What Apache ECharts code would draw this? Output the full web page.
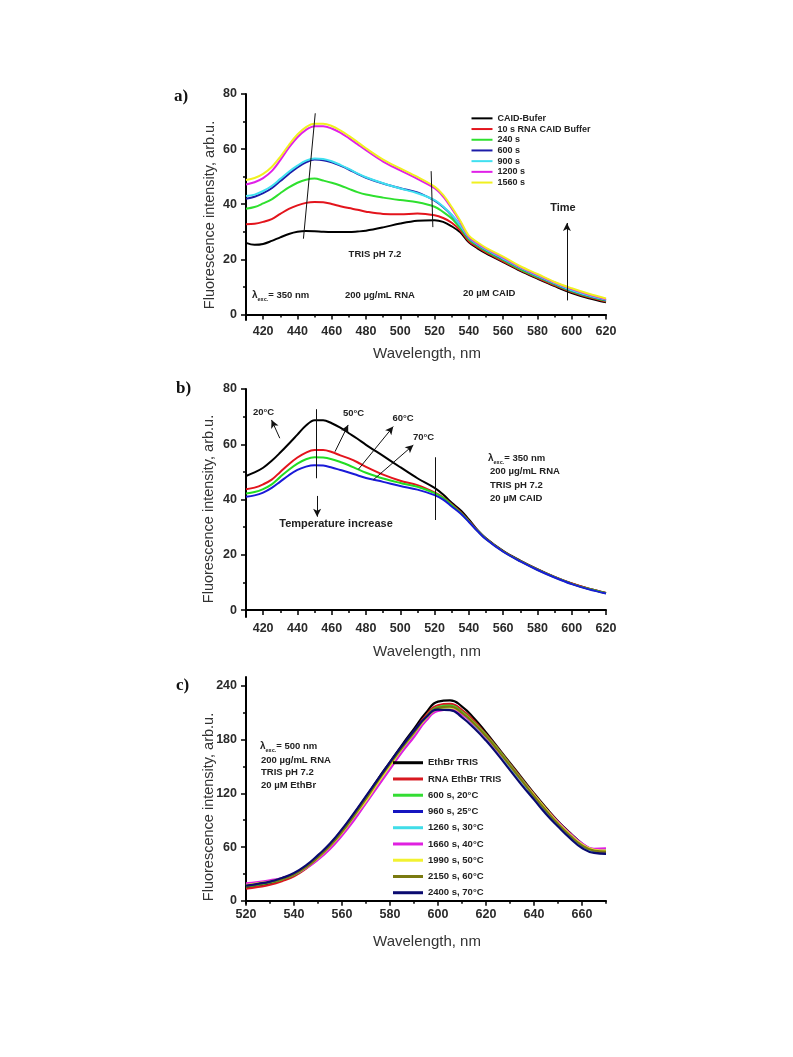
<!DOCTYPE html>
<html><head><meta charset="utf-8">
<script src="https://cdn.jsdelivr.net/npm/echarts@6/dist/echarts.min.js"></script>
<style>html,body{margin:0;padding:0;background:#fff}#c{width:793px;height:1057px}</style>
</head><body><div id="c"></div><script>
// ---------- DATA ----------
const wavelengthA = [410,415,420,425,430,435,440,445,450,455,460,465,470,475,480,490,500,510,520,525,530,535,540,545,550,560,570,580,590,600,610,620];
const namesA = ['CAID-Bufer','10 s RNA CAID Buffer','240 s','600 s','900 s','1200 s','1560 s'];
const a_caid   = [26,25.3,25.6,26.7,28,29.2,30,30.3,30.2,30,29.9,29.9,29.9,30.1,30.4,31.6,33,34,34.2,33.6,32,29.8,26.2,24,22.2,19,15.8,13,10.3,7.8,5.9,4.4];
const a_10s    = [32.7,32.9,33.6,34.6,36.5,38.3,39.6,40.5,40.8,40.7,40.1,39.3,38.6,38,37.3,36.5,36.4,36.6,36,35,33.3,30.5,26.6,24.4,22.5,19.3,16.1,13.3,10.6,8.1,6.2,4.7];
const a_240s   = [38.4,39,40.3,41.8,44,46.1,47.8,48.9,49.3,48.6,47.8,46.8,45.6,44.4,43.5,42.4,41.5,40.7,39.1,37.2,34.8,31.3,27.2,24.9,23,19.7,16.4,13.6,10.9,8.4,6.5,5];
const a_600s   = [42,42.7,44,45.8,48.4,51,53.4,55.2,56.2,56,55.2,54,52.6,51,49.6,47.5,45.8,44.3,41.3,39,36,32.2,27.7,25.3,23.4,20.1,16.8,13.9,11.2,8.7,6.8,5.2];
const a_900s   = [43,43.5,44.8,46.6,49.2,51.8,54,55.8,56.6,56.4,55.6,54.3,52.8,51.2,49.8,47.6,45.7,44,41.5,39.2,36.2,32.2,27.8,25.4,23.5,20.2,16.9,14,11.3,8.8,6.9,5.3];
const a_1200s  = [47.2,48,49.5,52,56,60.5,64.3,67,68.3,68.3,67.5,66,64,61.8,59.6,55.5,52.3,49.2,45.8,42.8,38.5,33.6,28.2,25.8,23.9,20.6,17.2,14.4,11.6,9.2,7.2,5.5];
const a_1560s  = [48.8,49.5,51,53.5,57.2,61.5,65.3,68,69.2,69.2,68.4,66.8,64.8,62.6,60.3,56.2,53,49.9,46.4,43.4,39,34,28.6,26.2,24.2,21,17.5,14.7,11.8,9.5,7.5,5.8];

const wavelengthB = [410,415,420,425,430,435,440,445,450,455,460,465,470,475,480,490,500,510,520,525,530,535,540,545,550,560,570,580,590,600,610,620];
const namesB = ['20°C','50°C','60°C','70°C'];
const b_20C = [48.5,49.8,51.5,54,57,60.2,63.5,66.8,68.7,68.7,67.6,66,64,62,59.8,55.8,51.7,47.7,44.2,41.8,38.8,36.2,32.8,29,26,21.4,17.9,14.8,12,9.6,7.7,6.2];
const b_50C = [43.7,44.3,45.5,47.2,50,52.8,55.2,57,57.9,57.9,57.2,56,54.9,53.5,51.8,49,46.8,45.2,42.6,40.8,38.3,35.6,32.3,28.8,25.8,21.3,17.8,14.7,12,9.6,7.7,6.2];
const b_60C = [42.2,42.7,43.8,45.5,48.2,50.8,53,54.6,55.3,55.2,54.6,53.6,52.4,51,49.7,47.6,46,44.6,42.3,40.6,38,35.3,32.1,28.7,25.7,21.2,17.7,14.6,11.9,9.5,7.6,6.1];
const b_70C = [41,41.5,42.5,44.2,46.5,48.8,50.7,51.9,52.4,52.3,51.6,50.7,49.8,48.8,47.8,46.4,44.9,43.6,41.6,40,37.5,35,31.9,28.6,25.6,21.1,17.6,14.5,11.8,9.4,7.5,6];

const wavelengthC = [520,525,530,535,540,545,550,555,560,565,570,575,580,585,590,595,600,605,610,615,620,625,630,635,640,645,650,655,660,665,670];
const namesC = ['EthBr TRIS','RNA EthBr TRIS','600 s, 20°C','960 s, 25°C','1260 s, 30°C','1660 s, 40°C','1990 s, 50°C','2150 s, 60°C','2400 s, 70°C'];
const c_ethbr  = [15,17,19.5,23.5,29,38,50,63,79,97,116,136,155,174,192,210,222.5,224,217,204,188,171,154,137,120,104,89,76,64,56,53];
const c_rna    = [13.5,15.5,18,22,27.5,36,47,60,76,94,113,133,152,171,189,207,218.5,220,213,201,186,170,153,136,119,103,88,75,63,56,55];
const c_600s   = [16,18,20.5,24,29,37,48,61,76,94,113,132,151,170,187,205,216.5,218,211,199,185,169,152,135,118,102,87,74,63,57,56];
const c_960s   = [17,19,21.5,25,30,38,49,62,77,95,114,133,152,170,187,204,214.5,216,209,197,183,167,150,133,116,100,86,73,62,56,55];
const c_1260s  = [18,20,22,25,29.5,37,47,59,74,91,110,129,148,167,184,202,213,214.5,209,197,183,167,150,133,117,101,86,73,62,56,56];
const c_1660s  = [19.5,21,23,25.5,30,36.5,46,58,73,90,109,128,147,166,183,201,212,213.5,208,197,183,167,151,134,118,102,88,75,64,58,58.5];
const c_1990s  = [17.5,19.5,21.5,25,30,37.5,48,61,76,94,112,132,151,170,187,204,214.5,216,210,198,184,168,151,134,118,102,87,74,63,57,56];
const c_2150s  = [16.5,18.5,21,24.5,29.5,37.5,48.5,61.5,77,95,114,134,153,171,188,205,215.5,217,210,198,184,168,151,134,117,101,86,73,62,56,55];
const c_2400s  = [17,19,21.5,25.5,31,39.5,51,64,80,98,117,136,155,173,190,205,213.5,213,205,193,179,163,146,129,113,97,83,70,59,53.5,52.5];

// tick labels
const xLabelsAB = [420,440,460,480,500,520,540,560,580,600,620];
const xMinorAB  = [410,430,450,470,490,510,530,550,570,590,610];
const yLabelsAB = [0,20,40,60,80];
const yMinorAB  = [10,30,50,70];
const xLabelsC = [520,540,560,580,600,620,640,660];
const xMinorC  = [530,550,570,590,610,630,650,670];
const yLabelsC = [0,60,120,180,240];
const yMinorC  = [30,90,150,210];

// ---------- CHART ----------
const FONT = '"Liberation Sans", Arial, sans-serif';
const chart = echarts.init(document.getElementById('c'));

const grids = [
  {left:246, top:94, width:360, height:226},
  {left:246, top:389, width:360, height:228},
  {left:246, top:677, width:360, height:226.5}
];
const ranges = [
  {xmin:410,xmax:620,ymin:-2,ymax:80, xl:xLabelsAB,xm:xMinorAB,yl:yLabelsAB,ym:yMinorAB},
  {xmin:410,xmax:620,ymin:-2.5,ymax:80, xl:xLabelsAB,xm:xMinorAB,yl:yLabelsAB,ym:yMinorAB},
  {xmin:520,xmax:670,ymin:-3,ymax:250, xl:xLabelsC,xm:xMinorC,yl:yLabelsC,ym:yMinorC}
];
const labelStyle = {fontFamily:FONT, fontSize:12.5, fontWeight:'bold', color:'#2a2a2a'};
const xAxis = [], yAxis = [];
ranges.forEach((r,g)=>{
  xAxis.push({type:'value', gridIndex:g, position:'bottom', min:r.xmin, max:r.xmax,
    axisLine:{show:true, lineStyle:{color:'#000', width:2}},
    axisTick:{show:true, customValues:r.xl, length:5, lineStyle:{color:'#000', width:1.5}},
    axisLabel:{customValues:r.xl, margin:5, ...labelStyle},
    splitLine:{show:false}});
  xAxis.push({type:'value', gridIndex:g, position:'bottom', min:r.xmin, max:r.xmax,
    axisLine:{show:false},
    axisTick:{show:true, customValues:r.xm, length:3, lineStyle:{color:'#000', width:1.5}},
    axisLabel:{show:false}, splitLine:{show:false}});
  yAxis.push({type:'value', gridIndex:g, position:'left', min:r.ymin, max:r.ymax,
    axisLine:{show:true, lineStyle:{color:'#000', width:2}},
    axisTick:{show:true, customValues:r.yl, length:5, lineStyle:{color:'#000', width:1.5}},
    axisLabel:{customValues:r.yl, margin:9, ...labelStyle},
    splitLine:{show:false}});
  yAxis.push({type:'value', gridIndex:g, position:'left', min:r.ymin, max:r.ymax,
    axisLine:{show:false},
    axisTick:{show:true, customValues:r.ym, length:3, lineStyle:{color:'#000', width:1.5}},
    axisLabel:{show:false}, splitLine:{show:false}});
});

function ls(name, xs, ys, color, g, width, sm){
  return {type:'line', name, xAxisIndex:g*2, yAxisIndex:g*2,
    data:xs.map((x,i)=>[x,ys[i]]), symbol:'none', showSymbol:false, smooth:sm,
    lineStyle:{color, width}, itemStyle:{color}, silent:true, z:3};
}
const colA = ['#000000','#e3141c','#2ee02e','#1c1ca8','#40e0f0','#e020e8','#f0f020'];
const seriesA = [a_caid,a_10s,a_240s,a_600s,a_900s,a_1200s,a_1560s].map((d,i)=>ls(namesA[i],wavelengthA,d,colA[i],0,2,0.35));
const colB = ['#000000','#e3141c','#22dd22','#1a1ad8'];
const seriesB = [b_20C,b_50C,b_60C,b_70C].map((d,i)=>ls(namesB[i],wavelengthB,d,colB[i],1,2,0.35));
const colC = ['#000000','#d81820','#33dd33','#1515c0','#40dde8','#e020e0','#f2f230','#7a7a10','#0a0a70'];
const seriesC = [c_ethbr,c_rna,c_600s,c_960s,c_1260s,c_1660s,c_1990s,c_2150s,c_2400s].map((d,i)=>ls(namesC[i],wavelengthC,d,colC[i],2,2.2,0.5));

const arrowEnd = {symbol:'arrow', symbolSize:[6,8]};
function seg(p1,p2,arrow){ return [{coord:p1, symbol:'none'}, Object.assign({coord:p2}, arrow?arrowEnd:{symbol:'none'})]; }
const mlBase = {silent:true, animation:false, symbol:['none','none'], label:{show:false}, lineStyle:{color:'#111', width:1, type:'solid'}, emphasis:{disabled:true}};
seriesA[0].markLine = Object.assign({}, mlBase, {data:[
  seg([443.5,27.5],[450.4,73]),
  seg([518,52],[519,31.7]),
  seg([597.2,5.1],[597.2,33.2],true)
]});
seriesB[0].markLine = Object.assign({}, mlBase, {data:[
  seg([450.8,72.7],[450.8,47.7]),
  seg([520.3,55.3],[520.3,32.6]),
  seg([429.7,62.2],[424.9,68.8],true),
  seg([461.9,57.3],[469.6,67],true),
  seg([475.5,50.9],[495.9,66.4],true),
  seg([484.2,47.1],[507.6,59.7],true),
  seg([451.5,41.3],[451.5,33.8],true)
]});

const legTxt = {fontFamily:FONT, fontWeight:'bold', color:'#222'};
const legend = [
  {data:namesA, orient:'vertical', left:471.5, top:113, padding:0, icon:'rect', itemWidth:21, itemHeight:2, itemGap:0,
   selectedMode:false, textStyle:Object.assign({fontSize:9, lineHeight:10.7}, legTxt)},
  {data:namesC, orient:'vertical', left:393, top:754.6, padding:0, icon:'rect', itemWidth:30, itemHeight:3, itemGap:0,
   selectedMode:false, textStyle:Object.assign({fontSize:9.5, lineHeight:16.25}, legTxt)}
];

function txt(x,y,text,size){
  return {type:'text', x, y, silent:true, z:10,
    style:{text, fontFamily:FONT, fontSize:size, fontWeight:'bold', fill:'#222', align:'left', verticalAlign:'middle'}};
}
function ctxt(x,y,text,size){
  return {type:'text', x, y, silent:true, z:10,
    style:{text, fontFamily:FONT, fontSize:size, fontWeight:'bold', fill:'#222', align:'center', verticalAlign:'middle'}};
}
function lam(x,y,val,size){
  return {type:'text', x, y, silent:true, z:10, style:{
    text:'{l|λ}{s|exc.}{n|= '+val+'}', align:'left', verticalAlign:'middle',
    rich:{l:{fontFamily:FONT,fontSize:size+0.5,fontWeight:'bold',fill:'#222',lineHeight:14},
          s:{fontFamily:FONT,fontSize:5.5,fontWeight:'bold',fill:'#222',lineHeight:8,verticalAlign:'bottom'},
          n:{fontFamily:FONT,fontSize:size,fontWeight:'bold',fill:'#222',lineHeight:14}}}};
}
function ytitle(x,y){
  return {type:'text', x, y, rotation:Math.PI/2, silent:true,
    style:{text:'Fluorescence intensity, arb.u.', fontFamily:FONT, fontSize:14.5, fill:'#333', align:'center', verticalAlign:'middle'}};
}
function xtitle(x,y){
  return {type:'text', x, y, silent:true,
    style:{text:'Wavelength, nm', fontFamily:FONT, fontSize:15, fill:'#333', align:'center', verticalAlign:'middle'}};
}
function plabel(x,y,t){
  return {type:'text', x, y, silent:true,
    style:{text:t, fontFamily:'"Liberation Serif", "Times New Roman", serif', fontSize:17, fontWeight:'bold', fill:'#111', align:'left', verticalAlign:'middle'}};
}

const graphic = [
  plabel(174,97,'a)'), plabel(176,389,'b)'), plabel(176,686,'c)'),
  ytitle(210,215), ytitle(209,509), ytitle(209,807),
  xtitle(427,354), xtitle(427,651.5), xtitle(427,941.5),
  // panel a
  ctxt(375,254,'TRIS pH 7.2',9.5),
  lam(252,295,'350 nm',9.5),
  txt(345,295,'200 µg/mL RNA',9.5),
  txt(463,293,'20 µM CAID',9.5),
  ctxt(563,208,'Time',11),
  // panel b
  txt(253,412,'20°C',9.5), txt(343,413.5,'50°C',9.5), txt(392.5,418,'60°C',9.5), txt(413,437.5,'70°C',9.5),
  ctxt(336,523.5,'Temperature increase',11),
  lam(488,458,'350 nm',9.5),
  txt(490,471,'200 µg/mL RNA',9.5),
  txt(490,485,'TRIS pH 7.2',9.5),
  txt(490,498.5,'20 µM CAID',9.5),
  // panel c
  lam(260,746,'500 nm',9.5),
  txt(261,760.5,'200 µg/mL RNA',9.5),
  txt(261,772.5,'TRIS pH 7.2',9.5),
  txt(261,785.5,'20 µM EthBr',9.5)
];

chart.setOption({
  animation:false,
  backgroundColor:'#fff',
  grid:grids, xAxis, yAxis, legend,
  series:[...seriesA, ...seriesB, ...seriesC],
  graphic
});
</script></body></html>
